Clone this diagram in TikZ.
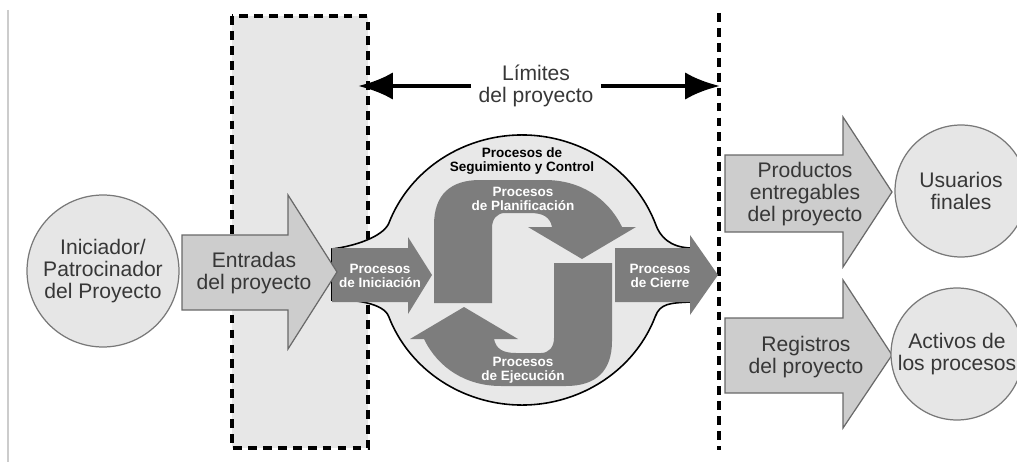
\documentclass[tikz,border=0pt]{standalone}
\usepackage{fontspec}
\setmainfont{Liberation Sans}
\usetikzlibrary{arrows.meta}
\definecolor{txtgray}{RGB}{55,55,55}
\definecolor{circfill}{RGB}{230,230,230}
\definecolor{circline}{RGB}{120,120,120}
\definecolor{blkfill}{RGB}{205,205,205}
\definecolor{blkline}{RGB}{105,105,105}
\definecolor{procgray}{RGB}{125,125,125}
\definecolor{bubfill}{RGB}{232,232,232}
\definecolor{boxfill}{RGB}{231,231,231}

\begin{document}
\begin{tikzpicture}[x=0.02cm,y=-0.02cm,
  every node/.style={align=center,inner sep=0pt,text=txtgray},
  big/.style={font=\fontsize{12}{12.5}\selectfont},
  small/.style={font=\bfseries\fontsize{7.7}{7.9}\selectfont},
  circ/.style={circle,draw=circline,fill=circfill,line width=0.7pt},
  blk/.style={draw=blkline,fill=blkfill,line width=0.7pt},
  proc/.style={fill=procgray},
  limdash/.style={line width=1.8pt,dash pattern=on 5pt off 3.5pt},
  lim/.style={line width=2.8pt,-{Latex[length=0.7cm,width=0.55cm]}}]
\useasboundingbox (0,0) rectangle (1017,466);
\draw[black!20,line width=0.6pt] (8,10)--(8,462);
% limites del proyecto
\draw[limdash,fill=boxfill] (232,16) rectangle (368,448);
\draw[limdash] (719,13)--(719,450);
% burbuja
\draw[fill=bubfill,line width=0.9pt] (332,249) .. controls (355,246) and (382,237) .. (388.6,223.8)
  arc[start angle=160,end angle=20,x radius=2.84cm,y radius=2.7cm]
  .. controls (660,237) and (670,247) .. (690,248) -- (690,302)
  .. controls (670,303) and (660.3,303.5) .. (655.4,316.2)
  arc[start angle=-20,end angle=-160,x radius=2.84cm,y radius=2.7cm]
  .. controls (383.7,303.5) and (355,299) .. (332,300) -- cycle;
% procesos
\fill[proc] (332,248)--(408,248)--(408,237)--(432,275)--(408,314)--(408,302)--(332,302)--cycle;
\fill[proc] (615,248)--(690,248)--(690,235)--(718,275)--(690,315)--(690,302)--(615,302)--cycle;
\foreach \r in {0,180}{
\fill[proc,rotate around={\r:(523,283)}] (434,303) -- (434,225) .. controls (434,195) and (450,180) .. (480,180)
  -- (545,180) .. controls (580,180) and (608,198) .. (622,227) -- (636,227) -- (582,259) -- (528,227)
  -- (552,227) .. controls (550,217) and (543,213) .. (530,213) -- (505,213)
  .. controls (497,213) and (492,219) .. (492,228) -- (492,303) -- cycle;
}
% flechas grandes
\draw[blk] (182,235)--(288,235)--(288,195)--(337,272)--(288,349)--(288,310)--(182,310)--cycle;
\draw[blk] (725,155)--(843,155)--(843,117)--(892,192)--(843,267)--(843,232)--(725,232)--cycle;
\draw[blk] (725,318)--(843,318)--(843,280)--(892,355)--(843,428)--(843,393)--(725,393)--cycle;
% nodos
\node[big,circ,minimum size=3.04cm] (ini) at (103,271) {Iniciador/\\Patrocinador\\del Proyecto};
\node[big,circ,minimum size=2.64cm] (usu) at (961,191) {Usuarios\\finales};
\node[big,circ,minimum size=2.64cm] (act) at (957,354) {Activos de\\los procesos};
\node[big] (ent) at (254,273) {Entradas\\del proyecto};
\node[big] (prod) at (805,194) {Productos\\entregables\\del proyecto};
\node[big] (reg) at (806,357) {Registros\\del proyecto};
\node[small,text=black] (seg) at (522,161) {Procesos de\\Seguimiento y Control};
\node[small,text=white] (plan) at (523,199) {Procesos\\de Planificación};
\node[small,text=white] (ejec) at (523,370) {Procesos\\de Ejecución};
\node[small,text=white] (inic) at (380,276) {Procesos\\de Iniciación};
\node[small,text=white] (cier) at (660,276) {Procesos\\de Cierre};
\node[big,inner xsep=4pt] (lim) at (536,86) {Límites\\del proyecto};
\coordinate (limL) at (358,86);
\coordinate (limR) at (720,86);
\draw[lim] (lim) -- (limL);
\draw[lim] (lim) -- (limR);
\end{tikzpicture}
\end{document}
